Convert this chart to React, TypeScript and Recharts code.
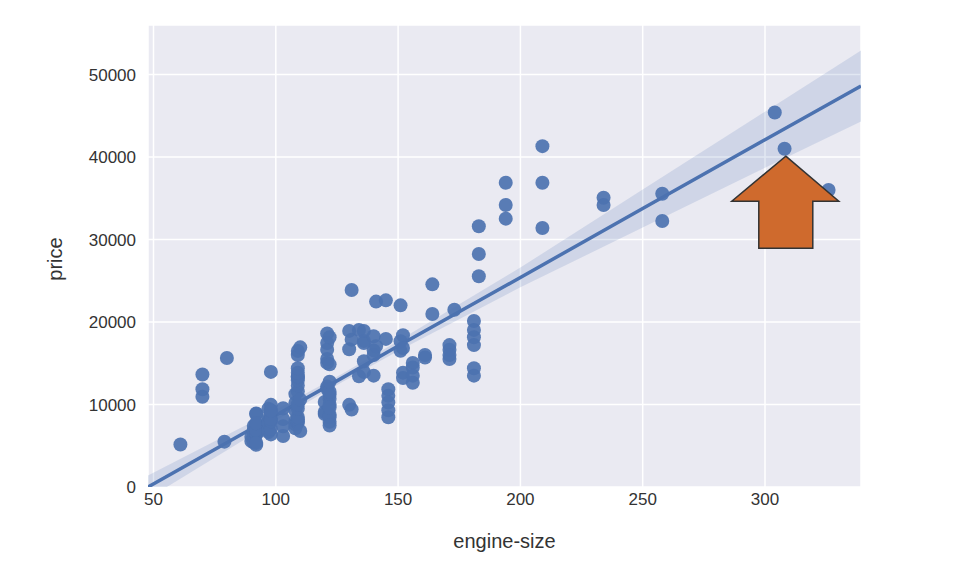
import { ComposedChart, Area, Line, Scatter, XAxis, YAxis, CartesianGrid, ReferenceDot } from 'recharts';

// engine sizes and the prices seen at each size
const engineSizes = [61, 70, 79, 80, 90, 91, 92, 97, 98, 103, 108, 109, 110, 120, 121, 122, 130, 131, 134, 136, 140, 141, 145, 146, 151, 152, 156, 161, 164, 171, 173, 181, 183, 194, 209, 234, 258, 304, 308, 326];
const pricesBySize = [
  [5151],
  [13645, 11845, 10945],
  [5500],
  [15645],
  [5572, 6095],
  [6575, 6695, 7395, 6855, 5399, 6229],
  [5118, 6479, 6855, 7129, 7295, 7609, 8845, 8921, 6338, 6488, 5348, 6918, 7738],
  [7099, 7799, 7999, 8249, 9495, 6649, 6849, 7775],
  [6377, 7053, 8058, 8948, 9279, 9959, 13950, 7975, 8238, 9258],
  [6189, 7349, 8249, 9549],
  [7126, 8013, 9233, 10198, 11259, 7603],
  [7775, 7975, 8195, 8495, 9495, 9995, 11595, 12290, 12940, 13295, 13415, 13845, 14399, 15985, 16500],
  [16925, 6785, 10595],
  [8845, 9095, 10295],
  [11900, 12170, 15040, 15510, 16630, 17450, 18620],
  [7898, 8778, 10698, 9989, 11199, 11549, 12764, 8449, 9639, 7463, 14869, 18150],
  [18920, 16695, 9960],
  [23875, 17859, 9400],
  [19045, 13415],
  [13950, 17450, 15250, 17710, 18920],
  [18280, 16558, 13499, 15998],
  [22470, 17075],
  [22625, 17950],
  [11850, 11048, 10245, 9298, 8449],
  [22018, 17669, 16503],
  [18399, 16845, 13860, 13200],
  [15040, 14489, 13499, 12629],
  [15690, 15998],
  [24565, 20970],
  [16630, 15510, 17199, 15998],
  [21485],
  [20130, 19045, 18150, 17199, 14399, 13499],
  [31600, 28248, 25552],
  [36880, 34184, 32528],
  [41315, 36880, 31400],
  [35056, 34184],
  [35550, 32250],
  [45400],
  [41000],
  [36000],
];

// regression line and confidence band
const fitX = [47.75, 75, 100, 127, 150, 200, 250, 300, 339.25];
const fitPrice = [0, 4550, 8700, 13200, 17100, 25400, 33750, 42100, 48600];
const bandLow = [-1400, 3550, 8050, 12700, 16500, 24200, 31450, 38700, 44300];
const bandHigh = [1400, 5550, 9350, 13700, 17700, 26600, 36050, 45500, 52900];

const xTicks = [50, 100, 150, 200, 250, 300];
const yTicks = [0, 10000, 20000, 30000, 40000, 50000];

const points = engineSizes.flatMap((size, i) => pricesBySize[i].map((p) => ({ x: size, price: p })));
const fitRows = fitX.map((x, i) => ({ x, fit: fitPrice[i], band: [bandLow[i], bandHigh[i]] }));

const BLUE = '#4c72b0';
const tickStyle = { fill: '#333', fontSize: 17 };

const Dot = (p: any) => <circle cx={p.cx} cy={p.cy} r={7} fill={BLUE} fillOpacity={0.92} />;

const Arrow = (p: any) => {
  const { cx, cy } = p;
  const pts = [
    [0, 0], [53, 45], [27, 45], [27, 92], [-27, 92], [-27, 45], [-54, 45],
  ].map(([dx, dy]) => `${cx + dx},${cy + dy}`).join(' ');
  return <polygon points={pts} fill="#cf6a2d" stroke="#333" strokeWidth={1.5} strokeLinejoin="miter" />;
};

const YLabel = (props: any) => {
  const vb = props.viewBox;
  const x = vb.x + 55;
  const y = vb.y + vb.height / 2 + 3;
  return (
    <text x={x} y={y} transform={`rotate(-90 ${x} ${y})`} textAnchor="middle" dominantBaseline="central" fill="#333" fontSize={20}>
      price
    </text>
  );
};

const XLabel = (props: any) => {
  const vb = props.viewBox;
  return (
    <text x={vb.x + vb.width / 2} y={vb.y + 61} textAnchor="middle" fill="#333" fontSize={20}>
      engine-size
    </text>
  );
};

export default function App() {
  return (
    <div style={{ position: 'absolute', left: 0, top: 0, width: 960, height: 566, background: '#fff', fontFamily: '"Liberation Sans", Arial, sans-serif' }}>
      <ComposedChart width={960} height={566} data={fitRows} margin={{ top: 25, right: 99, bottom: 0, left: 0 }}>
        <CartesianGrid stroke="#fff" strokeWidth={1.5} fill="#eaeaf2" fillOpacity={1} />
        <XAxis
          dataKey="x"
          type="number"
          domain={[47.75, 339.25]}
          ticks={xTicks}
          allowDataOverflow
          axisLine={false}
          tickLine={false}
          tickSize={0}
          tickMargin={6}
          tick={tickStyle}
          height={79}
          label={XLabel}
        />
        <YAxis
          type="number"
          domain={[0, 56000]}
          ticks={yTicks}
          allowDataOverflow
          axisLine={false}
          tickLine={false}
          tickSize={0}
          tickMargin={12}
          tick={tickStyle}
          width={148}
          label={YLabel}
        />
        <Scatter data={points} dataKey="price" shape={Dot} isAnimationActive={false} />
        <Area dataKey="band" type="linear" stroke="none" fill={BLUE} fillOpacity={0.17} isAnimationActive={false} />
        <Line dataKey="fit" type="linear" stroke={BLUE} strokeWidth={3.5} dot={false} activeDot={false} isAnimationActive={false} />
        <ReferenceDot x={308.5} y={40100} r={1} shape={Arrow} />
      </ComposedChart>
    </div>
  );
}
